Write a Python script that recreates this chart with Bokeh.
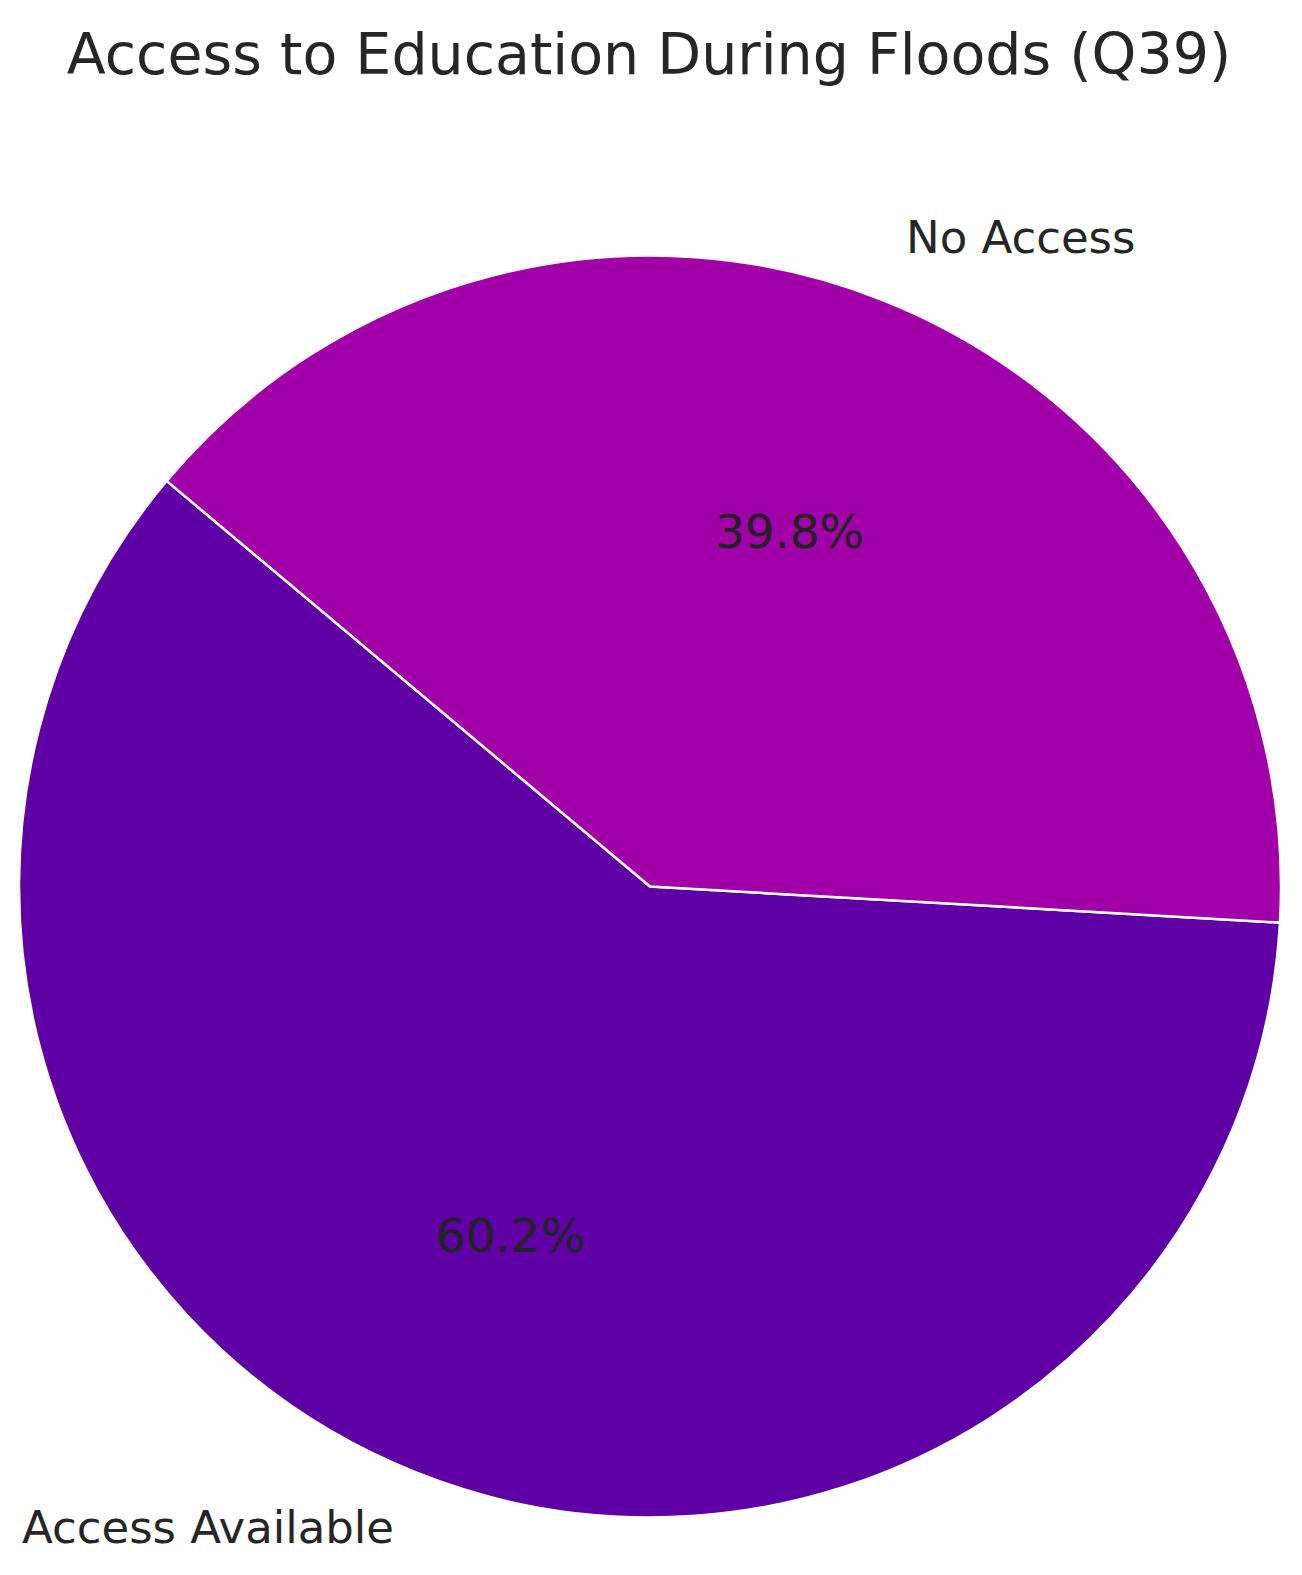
import math
from bokeh.plotting import figure
from bokeh.models import Range1d, ColumnDataSource
from bokeh.core.properties import value
from bokeh.embed import file_html
from bokeh.resources import INLINE

# ---- data ----
title_text = "Access to Education During Floods (Q39)"
categories = ["Access Available", "No Access"]
percentages = [60.2, 39.8]
colors = ["#5E00A4", "#A100A8"]
start_angle_deg = 140.0

# ---- layout (pixel-based data space, y up) ----
W, H = 1302, 1575
cx, cy = 649.5, H - 886.0
R = 631.0
FONT = "DejaVu Sans"

p = figure(width=W - 16, height=H - 16, output_backend="svg", toolbar_location=None,
           x_range=Range1d(0, W - 16), y_range=Range1d(16, H), min_border=0)
p.axis.visible = False
p.grid.visible = False
p.outline_line_color = None
p.background_fill_color = "white"
p.border_fill_color = "white"

total = sum(percentages)
starts, ends, mids = [], [], []
a = math.radians(start_angle_deg)
for v in percentages:
    span = 2 * math.pi * v / total
    starts.append(a)
    ends.append(a + span)
    mids.append(a + span / 2)
    a += span

src = ColumnDataSource(dict(start=starts, end=ends, color=colors))
p.wedge(x=cx, y=cy, radius=R, start_angle="start", end_angle="end", direction="anticlock",
        fill_color="color", line_color="white", line_width=2.5, source=src)

# category labels at 1.1 r
for cat, m in zip(categories, mids):
    lx = cx + 1.1 * R * math.cos(m)
    ly = cy + 1.1 * R * math.sin(m)
    align = "left" if math.cos(m) > 0 else "right"
    p.text(x=[lx], y=[ly + 4], text=[cat], text_font=value(FONT), text_font_size="45px",
           text_align=align, text_baseline="middle", text_color="#262626")

# percentage labels at 0.6 r
for pct, m in zip(percentages, mids):
    lx = cx + 0.6 * R * math.cos(m)
    ly = cy + 0.6 * R * math.sin(m)
    p.text(x=[lx], y=[ly + 3], text=[f"{pct:.1f}%"], text_font=value(FONT), text_font_size="47px",
           text_align="center", text_baseline="middle", text_color="#222222")

# title
p.text(x=[cx - 1], y=[H - 53], text=[title_text], text_font=value(FONT), text_font_size="57px",
       text_align="center", text_baseline="middle", text_color="#262626")

open("out.html", "w").write(file_html(p, INLINE))
